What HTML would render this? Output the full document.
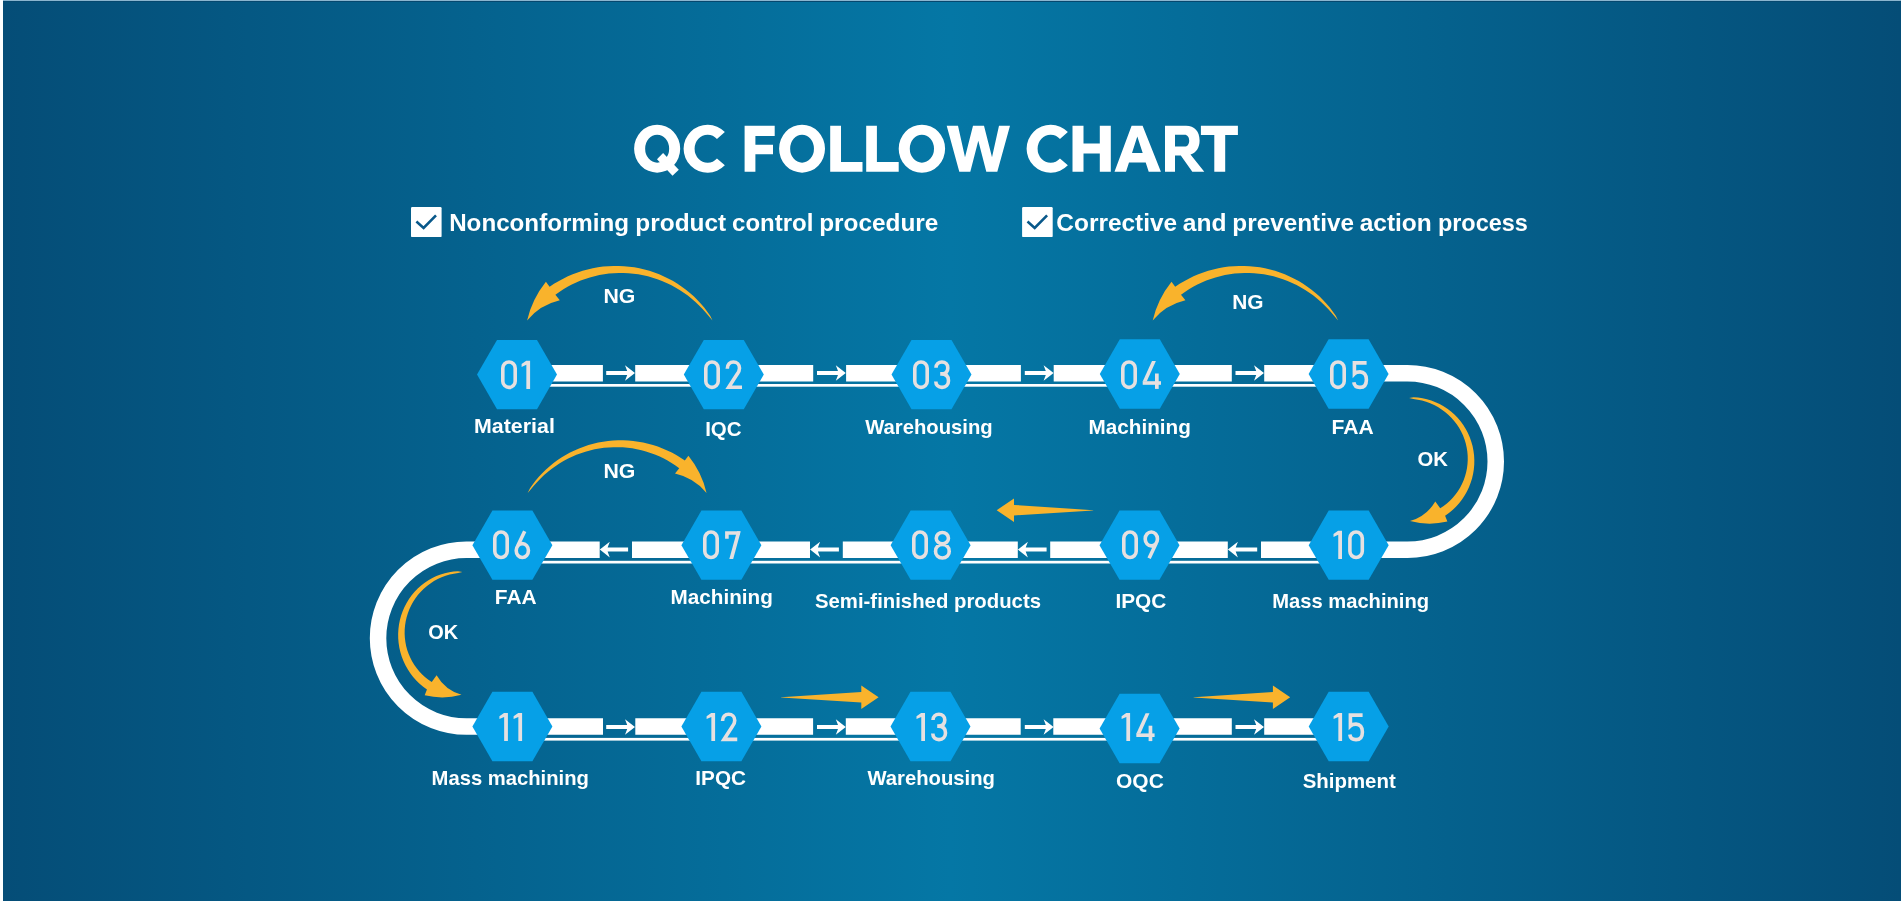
<!DOCTYPE html>
<html lang="en">
<head>
<meta charset="utf-8">
<title>QC Follow Chart</title>
<style>
html,body{margin:0;padding:0;}
body{width:1901px;height:901px;overflow:hidden;background:#054d77;font-family:"Liberation Sans",sans-serif;}
#stage{position:relative;width:1901px;height:901px;overflow:hidden;
 background:linear-gradient(to right,#054d77 0%,#05628e 25%,#0577a5 50%,#05628e 75%,#054d77 100%);}
#edgeL{position:absolute;left:0;top:0;width:3px;height:901px;background:#fdfefe;}
#edgeT{position:absolute;left:3px;top:0;right:0;height:1px;background:#8bb5cf;}
#edgeT2{position:absolute;left:3px;top:1px;right:0;height:1px;background:#06486f;}
svg{position:absolute;left:0;top:0;will-change:transform;}
text{font-family:"Liberation Sans",sans-serif;font-weight:bold;fill:#fff;}
.num text{font-weight:normal;fill:#e6e0e0;}
</style>
</head>
<body>
<div id="stage">
<div id="edgeT"></div><div id="edgeT2"></div><div id="edgeL"></div>
<svg width="1901" height="901" viewBox="0 0 1901 901">

<g class="title"><path fill="#fff" fill-rule="evenodd" d="M634.10,148.70 A23.05,24.00 0 1 0 680.20,148.70 A23.05,24.00 0 1 0 634.10,148.70 Z M645.15,148.70 A12.00,14.00 0 1 1 669.15,148.70 A12.00,14.00 0 1 1 645.15,148.70 Z"/><path fill="#fff" fill-rule="evenodd" d="M663.1,153.1 L678.8,169.7 L672.5,175.8 L657.0,159.2 Z"/><path fill="#fff" fill-rule="evenodd" d="M724.86,132.03 A24.00,24.00 0 1 0 724.86,165.37 L716.95,158.43 A13.00,14.00 0 1 1 716.95,138.97 Z"/><path fill="#fff" fill-rule="evenodd" d="M744.6,125.8 H774.7 V136 H755.4 V144.8 H773 V154.2 H755.4 V171.8 H744.6 Z"/><path fill="#fff" fill-rule="evenodd" d="M779.10,148.70 A22.95,24.00 0 1 0 825.00,148.70 A22.95,24.00 0 1 0 779.10,148.70 Z M790.15,148.70 A11.90,14.00 0 1 1 813.95,148.70 A11.90,14.00 0 1 1 790.15,148.70 Z"/><path fill="#fff" fill-rule="evenodd" d="M830.2,125.8 H841 V162 H862.5 V171.8 H830.2 Z"/><path fill="#fff" fill-rule="evenodd" d="M866.2,125.8 H876.9 V162 H898.7 V171.8 H866.2 Z"/><path fill="#fff" fill-rule="evenodd" d="M898.70,148.70 A23.20,24.00 0 1 0 945.10,148.70 A23.20,24.00 0 1 0 898.70,148.70 Z M909.80,148.70 A12.10,14.00 0 1 1 934.00,148.70 A12.10,14.00 0 1 1 909.80,148.70 Z"/><path fill="#fff" fill-rule="evenodd" d="M946.7,125.8 H958 L965,157.3 L973,125.8 H984 L992,157.3 L999,125.8 H1010 L997.3,171.8 H986.3 L978.3,140.7 L970.3,171.8 H959.3 Z"/><path fill="#fff" fill-rule="evenodd" d="M1067.86,132.03 A24.00,24.00 0 1 0 1067.86,165.37 L1059.95,158.43 A13.00,14.00 0 1 1 1059.95,138.97 Z"/><path fill="#fff" fill-rule="evenodd" d="M1072.5,125.8 H1083.5 V143.5 H1099.8 V125.8 H1110.8 V171.8 H1099.8 V153.4 H1083.5 V171.8 H1072.5 Z"/><path fill="#fff" fill-rule="evenodd" d="M1131.6,125.8 H1142.6 L1160.9,171.8 H1148.7 L1145.7,162.5 H1129 L1126,171.8 H1114.5 Z M1137.3,136.5 L1132,153.1 H1142.7 Z"/><path fill="#fff" fill-rule="evenodd" d="M1165,125.8 H1186 C1194.5,125.8 1199.6,131.5 1199.6,140.5 C1199.6,148 1196,152.8 1190.5,154.5 L1204.3,171.8 H1192.3 L1180.8,155.6 H1175 V171.8 H1165 Z M1175,134.8 V146.6 H1184.5 C1187.5,146.6 1189.2,144 1189.2,140.7 C1189.2,137.4 1187.5,134.8 1184.5,134.8 Z"/><path fill="#fff" fill-rule="evenodd" d="M1200.9,125.8 H1237.9 V135.1 H1225.2 V171.8 H1214.3 V135.1 H1200.9 Z"/></g>
<rect x="411.0" y="207.1" width="30.6" height="30" rx="1.2" fill="#fff"/>
<path d="M416.4,221.6 L423.6,227.9 L436.0,215.4" fill="none" stroke="#08588a" stroke-width="2.6"/>
<rect x="1022.1" y="207.1" width="30.6" height="30" rx="1.2" fill="#fff"/>
<path d="M1027.5,221.6 L1034.7,227.9 L1047.1,215.4" fill="none" stroke="#08588a" stroke-width="2.6"/>
<g class="sub">
<text x="449.16" y="231.10" font-size="23.40" textLength="179.96" lengthAdjust="spacingAndGlyphs">Nonconforming</text>
<text x="635.38" y="231.10" font-size="23.40" textLength="90.79" lengthAdjust="spacingAndGlyphs">product</text>
<text x="732.06" y="231.10" font-size="23.40" textLength="81.37" lengthAdjust="spacingAndGlyphs">control</text>
<text x="819.18" y="231.10" font-size="23.40" textLength="119.14" lengthAdjust="spacingAndGlyphs">procedure</text>
<text x="1056.35" y="231.10" font-size="23.40" textLength="120.87" lengthAdjust="spacingAndGlyphs">Corrective</text>
<text x="1182.86" y="231.10" font-size="23.40" textLength="43.66" lengthAdjust="spacingAndGlyphs">and</text>
<text x="1232.38" y="231.10" font-size="23.40" textLength="121.64" lengthAdjust="spacingAndGlyphs">preventive</text>
<text x="1359.66" y="231.10" font-size="23.40" textLength="72.11" lengthAdjust="spacingAndGlyphs">action</text>
<text x="1437.88" y="231.10" font-size="23.40" textLength="89.94" lengthAdjust="spacingAndGlyphs">process</text>
</g>
<g class="track">
<path d="M517,373.25 H602.9 M635.2,373.25 H813.2 M846.1,373.25 H1020.9 M1053.7,373.25 H1231.8 M1264.2,373.25 H1407.5 A88.25 88.25 0 0 1 1407.5,549.75 H1261 M1227.8,549.75 H1050.2 M1017.8,549.75 H842.8 M810,549.75 H632 M599.7,549.75 H466.4 A88.40 88.40 0 0 0 466.4,726.55 H603 M635.3,726.55 H813.1 M845.8,726.55 H1020.7 M1053.3,726.55 H1231.8 M1264.2,726.55 H1348.7" fill="none" stroke="#fff" stroke-width="16.50"/>
<rect x="517.0" y="384.00" width="831.6" height="2.7" fill="#fff"/>
<rect x="512.4" y="560.80" width="836.3" height="2.7" fill="#fff"/>
<rect x="512.4" y="737.90" width="836.3" height="2.7" fill="#fff"/>
<path d="M606.20,371.00 H627.20 L625.00,365.20 L635.00,373.00 L625.00,380.80 L627.20,375.00 H606.20Z M606.20,725.00 H627.20 L625.00,719.20 L635.00,727.00 L625.00,734.80 L627.20,729.00 H606.20Z M817.00,371.00 H838.00 L835.80,365.20 L845.80,373.00 L835.80,380.80 L838.00,375.00 H817.00Z M817.00,725.00 H838.00 L835.80,719.20 L845.80,727.00 L835.80,734.80 L838.00,729.00 H817.00Z M1024.80,371.00 H1045.80 L1043.60,365.20 L1053.60,373.00 L1043.60,380.80 L1045.80,375.00 H1024.80Z M1024.80,725.00 H1045.80 L1043.60,719.20 L1053.60,727.00 L1043.60,734.80 L1045.80,729.00 H1024.80Z M1235.50,371.00 H1256.20 L1254.00,365.20 L1264.00,373.00 L1254.00,380.80 L1256.20,375.00 H1235.50Z M1235.50,725.00 H1256.20 L1254.00,719.20 L1264.00,727.00 L1254.00,734.80 L1256.20,729.00 H1235.50Z M628.10,547.60 H607.60 L609.80,541.80 L599.80,549.60 L609.80,557.40 L607.60,551.60 H628.10Z M838.90,547.60 H817.90 L820.10,541.80 L810.10,549.60 L820.10,557.40 L817.90,551.60 H838.90Z M1046.60,547.60 H1025.70 L1027.90,541.80 L1017.90,549.60 L1027.90,557.40 L1025.70,551.60 H1046.60Z M1257.20,547.60 H1235.70 L1237.90,541.80 L1227.90,549.60 L1237.90,557.40 L1235.70,551.60 H1257.20Z" fill="#fff"/>
</g>
<g class="yellow" fill="#f9b32c">
<path d="M712.50,320.40 L710.18,315.84 L707.29,311.65 L704.19,307.60 L700.89,303.70 L697.40,299.96 L693.74,296.37 L689.92,292.96 L685.93,289.72 L681.80,286.66 L677.53,283.79 L673.12,281.12 L668.60,278.64 L663.96,276.38 L659.21,274.32 L654.37,272.48 L649.45,270.86 L644.46,269.46 L639.40,268.29 L634.29,267.35 L629.14,266.64 L623.96,266.16 L618.75,265.92 L613.53,265.91 L608.32,266.14 L603.11,266.61 L597.93,267.31 L592.78,268.25 L587.67,269.41 L582.62,270.81 L577.63,272.44 L572.71,274.29 L567.88,276.36 L563.14,278.66 L558.51,281.16 L553.99,283.87 L549.60,286.79 L545.90,281.80 Q532.18,299.00 527.10,320.40 Q540.10,304.90 559.80,300.30 L555.40,294.81 L559.33,291.98 L563.38,289.34 L567.54,286.87 L571.82,284.59 L576.20,282.50 L580.67,280.61 L585.23,278.92 L589.87,277.44 L594.57,276.16 L599.32,275.09 L604.13,274.24 L608.97,273.60 L613.84,273.18 L618.73,272.98 L623.63,273.00 L628.52,273.23 L633.41,273.68 L638.28,274.36 L643.12,275.25 L647.92,276.36 L652.66,277.68 L657.35,279.21 L661.98,280.95 L666.52,282.90 L670.98,285.05 L675.35,287.40 L679.61,289.95 L683.76,292.68 L687.79,295.60 L691.69,298.70 L695.46,301.97 L699.09,305.40 L702.58,309.00 L705.91,312.74 L709.10,316.62 L712.50,320.40 Z"/>
<path d="M1338.10,320.40 L1335.78,315.84 L1332.89,311.65 L1329.79,307.60 L1326.49,303.70 L1323.00,299.96 L1319.34,296.37 L1315.52,292.96 L1311.53,289.72 L1307.40,286.66 L1303.13,283.79 L1298.72,281.12 L1294.20,278.64 L1289.56,276.38 L1284.81,274.32 L1279.97,272.48 L1275.05,270.86 L1270.06,269.46 L1265.00,268.29 L1259.89,267.35 L1254.74,266.64 L1249.56,266.16 L1244.35,265.92 L1239.13,265.91 L1233.92,266.14 L1228.71,266.61 L1223.53,267.31 L1218.38,268.25 L1213.27,269.41 L1208.22,270.81 L1203.23,272.44 L1198.31,274.29 L1193.48,276.36 L1188.74,278.66 L1184.11,281.16 L1179.59,283.87 L1175.20,286.79 L1171.50,281.80 Q1157.78,299.00 1152.70,320.40 Q1165.70,304.90 1185.40,300.30 L1181.00,294.81 L1184.93,291.98 L1188.98,289.34 L1193.14,286.87 L1197.42,284.59 L1201.80,282.50 L1206.27,280.61 L1210.83,278.92 L1215.47,277.44 L1220.17,276.16 L1224.92,275.09 L1229.73,274.24 L1234.57,273.60 L1239.44,273.18 L1244.33,272.98 L1249.23,273.00 L1254.12,273.23 L1259.01,273.68 L1263.88,274.36 L1268.72,275.25 L1273.52,276.36 L1278.26,277.68 L1282.95,279.21 L1287.58,280.95 L1292.12,282.90 L1296.58,285.05 L1300.95,287.40 L1305.21,289.95 L1309.36,292.68 L1313.39,295.60 L1317.29,298.70 L1321.06,301.97 L1324.69,305.40 L1328.18,309.00 L1331.51,312.74 L1334.70,316.62 L1338.10,320.40 Z"/>
<path d="M527.64,492.90 L529.88,488.50 L532.67,484.46 L535.67,480.55 L538.85,476.79 L542.21,473.17 L545.74,469.71 L549.44,466.42 L553.28,463.29 L557.27,460.34 L561.39,457.57 L565.64,454.99 L570.01,452.61 L574.49,450.42 L579.07,448.43 L583.74,446.66 L588.48,445.09 L593.30,443.74 L598.18,442.61 L603.12,441.71 L608.09,441.02 L613.09,440.56 L618.11,440.33 L623.15,440.32 L628.18,440.54 L633.20,440.99 L638.20,441.67 L643.17,442.57 L648.10,443.70 L652.98,445.05 L657.80,446.62 L662.54,448.40 L667.20,450.41 L671.77,452.62 L676.24,455.03 L680.60,457.65 L684.85,460.47 L688.41,455.65 Q701.80,472.17 706.56,492.90 Q694.13,477.75 675.00,473.50 L679.24,468.21 L675.46,465.48 L671.55,462.92 L667.53,460.54 L663.40,458.34 L659.17,456.33 L654.86,454.51 L650.46,452.88 L645.99,451.44 L641.45,450.21 L636.86,449.18 L632.23,448.36 L627.55,447.74 L622.85,447.33 L618.13,447.14 L613.41,447.15 L608.68,447.38 L603.96,447.82 L599.27,448.47 L594.60,449.33 L589.97,450.40 L585.39,451.67 L580.86,453.15 L576.40,454.83 L572.01,456.71 L567.71,458.79 L563.50,461.06 L559.38,463.52 L555.38,466.15 L551.49,468.97 L547.72,471.96 L544.08,475.11 L540.58,478.43 L537.22,481.89 L534.00,485.51 L530.92,489.25 L527.64,492.90 Z"/>
<path d="M1409.10,398.00 L1413.58,397.30 L1418.06,397.60 L1422.52,398.24 L1426.92,399.22 L1431.26,400.52 L1435.49,402.14 L1439.61,404.06 L1443.58,406.27 L1447.39,408.78 L1451.01,411.55 L1454.44,414.59 L1457.64,417.87 L1460.60,421.37 L1463.31,425.09 L1465.75,429.00 L1467.90,433.07 L1469.76,437.30 L1471.31,441.66 L1472.56,446.12 L1473.47,450.67 L1474.07,455.28 L1474.33,459.92 L1474.26,464.58 L1473.85,469.23 L1473.12,473.84 L1472.05,478.40 L1470.66,482.87 L1468.95,487.24 L1466.93,491.48 L1464.61,495.57 L1462.00,499.49 L1459.11,503.22 L1455.96,506.73 L1452.56,510.02 L1448.93,513.06 L1445.09,515.83 L1447.40,521.60 Q1428.64,526.15 1410.00,521.10 Q1426.57,516.36 1435.30,501.50 L1440.21,508.27 L1443.62,505.99 L1446.87,503.47 L1449.93,500.72 L1452.80,497.76 L1455.45,494.60 L1457.87,491.25 L1460.05,487.73 L1461.98,484.06 L1463.64,480.26 L1465.03,476.34 L1466.14,472.33 L1466.97,468.24 L1467.50,464.10 L1467.74,459.93 L1467.68,455.74 L1467.32,451.56 L1466.66,447.41 L1465.71,443.31 L1464.47,439.28 L1462.95,435.34 L1461.14,431.51 L1459.07,427.82 L1456.73,424.27 L1454.15,420.90 L1451.32,417.71 L1448.27,414.72 L1445.02,411.95 L1441.57,409.41 L1437.94,407.11 L1434.15,405.08 L1430.22,403.31 L1426.16,401.81 L1422.00,400.60 L1417.76,399.67 L1413.45,399.02 L1409.10,398.00 Z"/>
<path d="M462.40,572.00 L457.99,571.30 L453.57,571.60 L449.18,572.24 L444.84,573.22 L440.58,574.51 L436.40,576.12 L432.35,578.04 L428.44,580.25 L424.69,582.75 L421.11,585.52 L417.74,588.55 L414.59,591.82 L411.67,595.32 L409.01,599.02 L406.60,602.92 L404.48,606.99 L402.65,611.20 L401.12,615.55 L399.90,620.00 L398.99,624.54 L398.41,629.13 L398.15,633.77 L398.22,638.41 L398.62,643.05 L399.34,647.65 L400.40,652.20 L401.77,656.66 L403.45,661.02 L405.44,665.25 L407.73,669.33 L410.30,673.23 L413.14,676.95 L416.25,680.46 L419.59,683.74 L423.17,686.77 L426.95,689.54 L424.67,695.29 Q443.16,699.84 461.51,694.79 Q445.10,690.05 436.59,675.24 L431.76,681.99 L428.39,679.72 L425.20,677.21 L422.18,674.47 L419.36,671.51 L416.75,668.36 L414.36,665.02 L412.22,661.51 L410.32,657.85 L408.68,654.06 L407.31,650.15 L406.21,646.15 L405.40,642.07 L404.88,637.94 L404.64,633.77 L404.70,629.59 L405.05,625.42 L405.70,621.28 L406.64,617.19 L407.86,613.17 L409.36,609.24 L411.14,605.43 L413.18,601.74 L415.48,598.21 L418.03,594.84 L420.81,591.66 L423.81,588.68 L427.02,585.91 L430.42,583.38 L434.00,581.09 L437.73,579.06 L441.60,577.29 L445.59,575.80 L449.69,574.59 L453.87,573.67 L458.11,573.02 L462.40,572.00 Z"/>
<path d="M1093.20,510.20 L1014.00,504.90 L1014.00,498.50 L996.70,510.20 L1014.00,521.90 L1014.00,515.50 L1093.20,510.50Z"/>
<path d="M781.00,697.30 L861.30,692.00 L861.30,685.60 L878.60,697.30 L861.30,709.00 L861.30,702.60 L781.00,697.60Z"/>
<path d="M1193.60,697.30 L1272.90,692.00 L1272.90,685.60 L1290.20,697.30 L1272.90,709.00 L1272.90,702.60 L1193.60,697.60Z"/>
</g>
<g class="hex" fill="#06a0e7">
<path d="M557.00,374.60 L537.00,409.24 L497.00,409.24 L477.00,374.60 L497.00,339.96 L537.00,339.96Z"/>
<path d="M763.80,374.60 L743.80,409.24 L703.80,409.24 L683.80,374.60 L703.80,339.96 L743.80,339.96Z"/>
<path d="M971.50,374.60 L951.50,409.24 L911.50,409.24 L891.50,374.60 L911.50,339.96 L951.50,339.96Z"/>
<path d="M1179.80,374.00 L1159.80,408.64 L1119.80,408.64 L1099.80,374.00 L1119.80,339.36 L1159.80,339.36Z"/>
<path d="M1388.60,374.00 L1368.60,408.64 L1328.60,408.64 L1308.60,374.00 L1328.60,339.36 L1368.60,339.36Z"/>
<path d="M552.40,545.20 L532.40,579.84 L492.40,579.84 L472.40,545.20 L492.40,510.56 L532.40,510.56Z"/>
<path d="M761.40,545.20 L741.40,579.84 L701.40,579.84 L681.40,545.20 L701.40,510.56 L741.40,510.56Z"/>
<path d="M970.60,545.20 L950.60,579.84 L910.60,579.84 L890.60,545.20 L910.60,510.56 L950.60,510.56Z"/>
<path d="M1179.50,545.20 L1159.50,579.84 L1119.50,579.84 L1099.50,545.20 L1119.50,510.56 L1159.50,510.56Z"/>
<path d="M1388.70,545.20 L1368.70,579.84 L1328.70,579.84 L1308.70,545.20 L1328.70,510.56 L1368.70,510.56Z"/>
<path d="M552.40,726.50 L532.40,761.14 L492.40,761.14 L472.40,726.50 L492.40,691.86 L532.40,691.86Z"/>
<path d="M761.40,726.50 L741.40,761.14 L701.40,761.14 L681.40,726.50 L701.40,691.86 L741.40,691.86Z"/>
<path d="M970.50,726.50 L950.50,761.14 L910.50,761.14 L890.50,726.50 L910.50,691.86 L950.50,691.86Z"/>
<path d="M1179.60,728.50 L1159.60,763.14 L1119.60,763.14 L1099.60,728.50 L1119.60,693.86 L1159.60,693.86Z"/>
<path d="M1388.70,726.50 L1368.70,761.14 L1328.70,761.14 L1308.70,726.50 L1328.70,691.86 L1368.70,691.86Z"/>
</g>
<g class="num">
<g transform="translate(501.00,360.20)"><path d="M1.8,8 A6.2,6.2 0 0 1 14.2,8 V21 A6.2,6.2 0 0 1 1.8,21 Z" fill="none" stroke="#e6e0e0" stroke-width="3.60" stroke-linejoin="miter" stroke-miterlimit="3"/></g>
<g transform="translate(521.60,360.20)"><path d="M8.5,0.6 H4.6 L0,3.8 V6.7 L4.75,4.6 V28.7 H8.5 Z" fill="#e6e0e0"/></g>
<g transform="translate(704.00,360.20)"><path d="M1.8,8 A6.2,6.2 0 0 1 14.2,8 V21 A6.2,6.2 0 0 1 1.8,21 Z" fill="none" stroke="#e6e0e0" stroke-width="3.60" stroke-linejoin="miter" stroke-miterlimit="3"/></g>
<g transform="translate(725.00,360.20)"><path d="M2.3,8.6 C2.3,4.4 4.9,1.8 8.4,1.8 C11.9,1.8 14.5,4.3 14.5,8 C14.5,10.3 13.6,12 12.2,13.9 L3.7,27 H17" fill="none" stroke="#e6e0e0" stroke-width="3.60" stroke-linejoin="miter" stroke-miterlimit="3"/></g>
<g transform="translate(913.00,360.20)"><path d="M1.8,8 A6.2,6.2 0 0 1 14.2,8 V21 A6.2,6.2 0 0 1 1.8,21 Z" fill="none" stroke="#e6e0e0" stroke-width="3.60" stroke-linejoin="miter" stroke-miterlimit="3"/></g>
<g transform="translate(934.00,360.20)"><path d="M2.0,7.6 C2.0,4 4.6,1.8 7.9,1.8 C11.3,1.8 13.8,4 13.8,7.7 C13.8,11.2 11.6,13.7 7.2,13.7 H6.2 M7.2,13.7 C11.9,13.7 14.5,16.3 14.5,20.6 C14.5,24.6 11.8,27.2 8,27.2 C4.3,27.2 1.8,24.8 1.8,21.2" fill="none" stroke="#e6e0e0" stroke-width="3.60" stroke-linejoin="miter" stroke-miterlimit="3"/></g>
<g transform="translate(1121.00,360.20)"><path d="M1.8,8 A6.2,6.2 0 0 1 14.2,8 V21 A6.2,6.2 0 0 1 1.8,21 Z" fill="none" stroke="#e6e0e0" stroke-width="3.60" stroke-linejoin="miter" stroke-miterlimit="3"/></g>
<g transform="translate(1142.70,360.20)"><path d="M9.3,0.9 H13.2 L4.0,21.3 H0 Z" fill="#e6e0e0"/><path d="M0,21.0 H18.3 V24.6 H0 Z" fill="#e6e0e0"/><path d="M12.3,13.3 H16.0 V28.7 H12.3 Z" fill="#e6e0e0"/></g>
<g transform="translate(1330.00,360.20)"><path d="M1.8,8 A6.2,6.2 0 0 1 14.2,8 V21 A6.2,6.2 0 0 1 1.8,21 Z" fill="none" stroke="#e6e0e0" stroke-width="3.60" stroke-linejoin="miter" stroke-miterlimit="3"/></g>
<g transform="translate(1352.00,360.20)"><path d="M14.6,2.7 H2.4 V13.6 C3.8,12.2 5.6,11.7 8,11.7 C12,11.7 14.4,14.6 14.4,19.5 C14.4,24.5 12,27.2 8,27.2 C4.4,27.2 2.2,25.3 1.8,22.1" fill="none" stroke="#e6e0e0" stroke-width="3.60" stroke-linejoin="miter" stroke-miterlimit="3"/></g>
<g transform="translate(493.00,530.25)"><path d="M1.8,8 A6.2,6.2 0 0 1 14.2,8 V21 A6.2,6.2 0 0 1 1.8,21 Z" fill="none" stroke="#e6e0e0" stroke-width="3.60" stroke-linejoin="miter" stroke-miterlimit="3"/></g>
<g transform="translate(514.40,530.25)"><path d="M10.3,0.9 L3.0,16.3 M14.05,20.3 A6.12,6.9 0 1 1 1.8,20.3 A6.12,6.9 0 1 1 14.05,20.3 Z" fill="none" stroke="#e6e0e0" stroke-width="3.60" stroke-linejoin="miter" stroke-miterlimit="3"/></g>
<g transform="translate(703.00,530.25)"><path d="M1.8,8 A6.2,6.2 0 0 1 14.2,8 V21 A6.2,6.2 0 0 1 1.8,21 Z" fill="none" stroke="#e6e0e0" stroke-width="3.60" stroke-linejoin="miter" stroke-miterlimit="3"/></g>
<g transform="translate(725.00,530.25)"><path d="M1.9,8.4 V2.7 H14.9" fill="none" stroke="#e6e0e0" stroke-width="3.60" stroke-linejoin="miter" stroke-miterlimit="3"/><path d="M12.0,0.9 H15.75 L8.2,28.7 H4.3 Z" fill="#e6e0e0"/></g>
<g transform="translate(912.00,530.25)"><path d="M1.8,8 A6.2,6.2 0 0 1 14.2,8 V21 A6.2,6.2 0 0 1 1.8,21 Z" fill="none" stroke="#e6e0e0" stroke-width="3.60" stroke-linejoin="miter" stroke-miterlimit="3"/></g>
<g transform="translate(933.75,530.25)"><path d="M14.7,7.9 A6.1,5.6 0 1 1 2.5,7.9 A6.1,5.6 0 1 1 14.7,7.9 Z M15.45,21.0 A6.85,6.2 0 1 1 1.8,21.0 A6.85,6.2 0 1 1 15.45,21.0 Z" fill="none" stroke="#e6e0e0" stroke-width="3.60" stroke-linejoin="miter" stroke-miterlimit="3"/></g>
<g transform="translate(1122.00,530.25)"><path d="M1.8,8 A6.2,6.2 0 0 1 14.2,8 V21 A6.2,6.2 0 0 1 1.8,21 Z" fill="none" stroke="#e6e0e0" stroke-width="3.60" stroke-linejoin="miter" stroke-miterlimit="3"/></g>
<g transform="translate(1143.40,530.25)"><path d="M5.7,28.1 L12.9,12.8 M14.05,8.7 A6.12,6.9 0 1 1 1.8,8.7 A6.12,6.9 0 1 1 14.05,8.7 Z" fill="none" stroke="#e6e0e0" stroke-width="3.60" stroke-linejoin="miter" stroke-miterlimit="3"/></g>
<g transform="translate(1333.50,530.25)"><path d="M8.5,0.6 H4.6 L0,3.8 V6.7 L4.75,4.6 V28.7 H8.5 Z" fill="#e6e0e0"/></g>
<g transform="translate(1348.10,530.25)"><path d="M1.8,8 A6.2,6.2 0 0 1 14.2,8 V21 A6.2,6.2 0 0 1 1.8,21 Z" fill="none" stroke="#e6e0e0" stroke-width="3.60" stroke-linejoin="miter" stroke-miterlimit="3"/></g>
<g transform="translate(499.40,712.40)"><path d="M8.5,0.6 H4.6 L0,3.8 V6.7 L4.75,4.6 V28.7 H8.5 Z" fill="#e6e0e0"/></g>
<g transform="translate(513.60,712.40)"><path d="M8.5,0.6 H4.6 L0,3.8 V6.7 L4.75,4.6 V28.7 H8.5 Z" fill="#e6e0e0"/></g>
<g transform="translate(706.60,712.40)"><path d="M8.5,0.6 H4.6 L0,3.8 V6.7 L4.75,4.6 V28.7 H8.5 Z" fill="#e6e0e0"/></g>
<g transform="translate(720.25,712.40)"><path d="M2.3,8.6 C2.3,4.4 4.9,1.8 8.4,1.8 C11.9,1.8 14.5,4.3 14.5,8 C14.5,10.3 13.6,12 12.2,13.9 L3.7,27 H17" fill="none" stroke="#e6e0e0" stroke-width="3.60" stroke-linejoin="miter" stroke-miterlimit="3"/></g>
<g transform="translate(916.50,712.40)"><path d="M8.5,0.6 H4.6 L0,3.8 V6.7 L4.75,4.6 V28.7 H8.5 Z" fill="#e6e0e0"/></g>
<g transform="translate(931.00,712.40)"><path d="M2.0,7.6 C2.0,4 4.6,1.8 7.9,1.8 C11.3,1.8 13.8,4 13.8,7.7 C13.8,11.2 11.6,13.7 7.2,13.7 H6.2 M7.2,13.7 C11.9,13.7 14.5,16.3 14.5,20.6 C14.5,24.6 11.8,27.2 8,27.2 C4.3,27.2 1.8,24.8 1.8,21.2" fill="none" stroke="#e6e0e0" stroke-width="3.60" stroke-linejoin="miter" stroke-miterlimit="3"/></g>
<g transform="translate(1121.60,712.40)"><path d="M8.5,0.6 H4.6 L0,3.8 V6.7 L4.75,4.6 V28.7 H8.5 Z" fill="#e6e0e0"/></g>
<g transform="translate(1136.30,712.40)"><path d="M9.3,0.9 H13.2 L4.0,21.3 H0 Z" fill="#e6e0e0"/><path d="M0,21.0 H18.3 V24.6 H0 Z" fill="#e6e0e0"/><path d="M12.3,13.3 H16.0 V28.7 H12.3 Z" fill="#e6e0e0"/></g>
<g transform="translate(1333.60,712.40)"><path d="M8.5,0.6 H4.6 L0,3.8 V6.7 L4.75,4.6 V28.7 H8.5 Z" fill="#e6e0e0"/></g>
<g transform="translate(1348.00,712.40)"><path d="M14.6,2.7 H2.4 V13.6 C3.8,12.2 5.6,11.7 8,11.7 C12,11.7 14.4,14.6 14.4,19.5 C14.4,24.5 12,27.2 8,27.2 C4.4,27.2 2.2,25.3 1.8,22.1" fill="none" stroke="#e6e0e0" stroke-width="3.60" stroke-linejoin="miter" stroke-miterlimit="3"/></g>
</g>
<g class="labels">
<text x="474.07" y="433.30" font-size="20.40" textLength="80.76" lengthAdjust="spacingAndGlyphs">Material</text>
<text x="705.17" y="435.60" font-size="20.40" textLength="36.44" lengthAdjust="spacingAndGlyphs">IQC</text>
<text x="865.20" y="433.60" font-size="20.40" textLength="127.53" lengthAdjust="spacingAndGlyphs">Warehousing</text>
<text x="1088.57" y="433.60" font-size="20.40" textLength="102.35" lengthAdjust="spacingAndGlyphs">Machining</text>
<text x="1331.57" y="433.60" font-size="20.40" textLength="42.13" lengthAdjust="spacingAndGlyphs">FAA</text>
<text x="494.77" y="603.90" font-size="20.40" textLength="41.83" lengthAdjust="spacingAndGlyphs">FAA</text>
<text x="670.57" y="603.90" font-size="20.40" textLength="102.35" lengthAdjust="spacingAndGlyphs">Machining</text>
<text x="814.98" y="607.60" font-size="20.40" textLength="226.03" lengthAdjust="spacingAndGlyphs">Semi-finished products</text>
<text x="1115.47" y="607.80" font-size="20.40" textLength="50.84" lengthAdjust="spacingAndGlyphs">IPQC</text>
<text x="1272.17" y="607.80" font-size="20.40" textLength="156.95" lengthAdjust="spacingAndGlyphs">Mass machining</text>
<text x="431.57" y="785.40" font-size="20.40" textLength="157.35" lengthAdjust="spacingAndGlyphs">Mass machining</text>
<text x="695.37" y="785.40" font-size="20.40" textLength="50.74" lengthAdjust="spacingAndGlyphs">IPQC</text>
<text x="867.40" y="785.40" font-size="20.40" textLength="127.53" lengthAdjust="spacingAndGlyphs">Warehousing</text>
<text x="1116.08" y="787.60" font-size="20.40" textLength="47.73" lengthAdjust="spacingAndGlyphs">OQC</text>
<text x="1302.68" y="787.60" font-size="20.40" textLength="93.02" lengthAdjust="spacingAndGlyphs">Shipment</text>
<text x="603.49" y="302.70" font-size="20.20" textLength="31.92" lengthAdjust="spacingAndGlyphs">NG</text>
<text x="1232.19" y="309.40" font-size="20.20" textLength="31.32" lengthAdjust="spacingAndGlyphs">NG</text>
<text x="603.49" y="478.40" font-size="20.20" textLength="31.92" lengthAdjust="spacingAndGlyphs">NG</text>
<text x="1417.49" y="465.60" font-size="20.20" textLength="30.41" lengthAdjust="spacingAndGlyphs">OK</text>
<text x="428.29" y="638.50" font-size="20.20" textLength="29.91" lengthAdjust="spacingAndGlyphs">OK</text>
</g>
</svg>
</div>
</body>
</html>
